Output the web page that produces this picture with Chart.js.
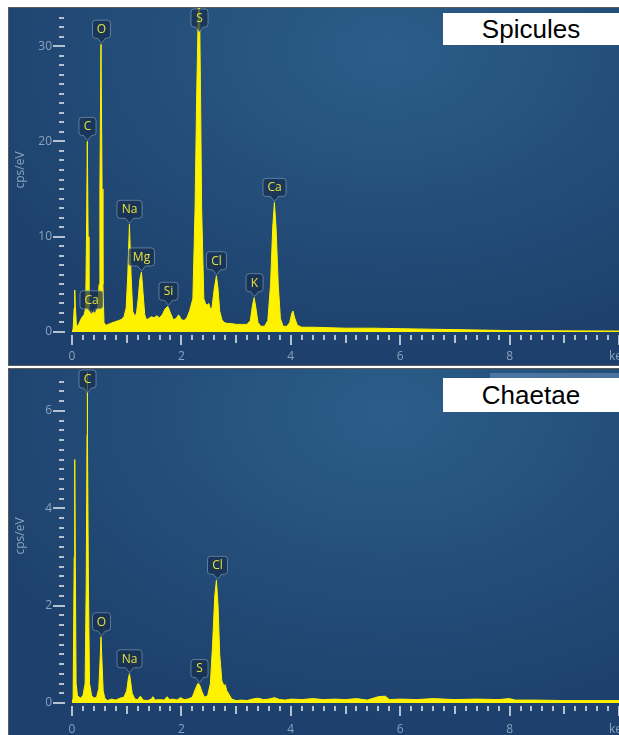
<!DOCTYPE html>
<html>
<head>
<meta charset="utf-8">
<script src="https://cdn.jsdelivr.net/npm/chart.js@4.4.1/dist/chart.umd.min.js"></script>
<style>
  body { margin: 0; background: #fff; width: 619px; height: 735px; overflow: hidden; position: relative; }
  .panel { position: absolute; left: 8px; border: 1px solid #5b5b5b; border-right: none; }
  #p1 { top: 7px; }
  #p2 { top: 368px; border-bottom: none; }
  .plot {
    position: relative; width: 610px;
    background: radial-gradient(ellipse 75% 85% at 62% 12%, #2c5d8a 0%, #25507c 45%, #1d416c 100%);
  }
  #p1 .plot { height: 357px; }
  #p2 .plot { height: 366px; }
  .tag {
    position: absolute; left: 434px; width: 176px; background: #fff; color: #000;
    font: 26px "Liberation Sans", Arial, sans-serif; text-align: center;
  }
  .strip { position: absolute; left: 481px; top: 4px; width: 129px; height: 5px; background: rgba(120, 160, 200, 0.45); }
</style>
</head>
<body>
<div class="panel" id="p1">
  <div class="plot">
    <canvas id="spicules"></canvas>
    <div class="tag" style="top:5px;height:32px;line-height:32px;">Spicules</div>
  </div>
</div>
<div class="panel" id="p2">
  <div class="plot">
    <canvas id="chaetae"></canvas>
    <div class="strip"></div>
    <div class="tag" style="top:9px;height:34px;line-height:34px;">Chaetae</div>
  </div>
</div>
<script>
// energy axis (keV) shared by both spectra
const xTickLabels = ['0', '2', '4', '6', '8', 'keV'];

// Spicules spectrum
const spiculesKeV = [0.00, 0.02, 0.04, 0.05, 0.06, 0.08, 0.10, 0.13, 0.16, 0.19, 0.22, 0.25, 0.265, 0.28, 0.295, 0.31,
  0.33, 0.35, 0.37, 0.40, 0.42, 0.44, 0.47, 0.495, 0.51, 0.53, 0.55, 0.565, 0.585, 0.62, 0.66, 0.70, 0.75, 0.80, 0.85,
  0.90, 0.95, 0.99, 1.02, 1.05, 1.08, 1.11, 1.15, 1.18, 1.21, 1.24, 1.27, 1.30, 1.33, 1.36, 1.40, 1.45, 1.50, 1.55,
  1.60, 1.65, 1.70, 1.75, 1.80, 1.85, 1.90, 1.95, 2.00, 2.05, 2.10, 2.15, 2.21, 2.25, 2.28, 2.31, 2.33, 2.35, 2.37,
  2.41, 2.44, 2.47, 2.50, 2.53, 2.56, 2.60, 2.64, 2.67, 2.70, 2.74, 2.78, 2.84, 2.90, 3.00, 3.10, 3.20, 3.26, 3.30,
  3.33, 3.36, 3.40, 3.45, 3.52, 3.58, 3.63, 3.67, 3.70, 3.73, 3.77, 3.81, 3.86, 3.93, 3.98, 4.02, 4.04, 4.07, 4.12,
  4.20, 4.40, 4.70, 5.00, 5.50, 6.00, 6.50, 7.00, 7.50, 8.00, 9.00, 10.00];
const spiculesCps = [0, 0.3, 2.5, 4.4, 2.8, 0.8, 0.6, 0.9, 1.3, 1.6, 1.8, 2.5, 10, 20, 10, 2.6,
  2.0, 2.3, 2.0, 2.1, 1.8, 2.2, 2.5, 5, 15, 30.2, 15, 5, 1.0, 0.7, 0.8, 0.9, 1.0, 1.1, 1.2,
  1.3, 1.6, 2.5, 6, 11.3, 6, 2.2, 1.6, 2.0, 3.5, 5.5, 6.3, 4.0, 1.8, 1.3, 1.4, 1.6, 1.5, 1.7,
  1.5, 1.8, 2.4, 2.7, 2.0, 1.3, 1.4, 1.8, 1.3, 1.2, 1.5, 2.2, 3.5, 13, 25, 34, 35, 25, 13,
  3.5, 3.0, 2.8, 3.0, 2.4, 2.6, 4.5, 5.9, 4.5, 2.2, 1.3, 1.0, 0.9, 0.9, 0.8, 0.8, 0.8, 1.2, 2.8,
  3.6, 2.6, 1.0, 0.6, 0.6, 1.2, 5, 11, 13.6, 11, 5, 1.4, 0.6, 0.6, 1.0, 2.0, 2.2, 1.5, 0.7,
  0.5, 0.5, 0.45, 0.4, 0.4, 0.35, 0.3, 0.25, 0.2, 0.15, 0.12, 0.1];
const spiculesPeakNames = ['Ca', 'C', 'O', 'Na', 'Mg', 'Si', 'S', 'Cl', 'K', 'Ca'];
const spiculesPeakKeV = [0.35, 0.28, 0.53, 1.05, 1.27, 1.75, 2.32, 2.64, 3.33, 3.70];
const spiculesPeakCps = [1.8, 20, 30.2, 11.3, 6.3, 2.7, 35, 5.9, 3.6, 13.6];
const spiculesYLabels = ['0', '10', '20', '30'];

// Chaetae spectrum
const chaetaeKeV = [0.00, 0.02, 0.04, 0.05, 0.06, 0.075, 0.10, 0.15, 0.20, 0.24, 0.26, 0.275, 0.28, 0.285, 0.30, 0.32,
  0.36, 0.40, 0.45, 0.49, 0.51, 0.53, 0.55, 0.57, 0.60, 0.65, 0.72, 0.80, 0.88, 0.95, 1.00, 1.03, 1.05, 1.07, 1.10,
  1.15, 1.20, 1.25, 1.30, 1.38, 1.45, 1.48, 1.52, 1.60, 1.68, 1.74, 1.78, 1.85, 1.92, 1.98, 2.05, 2.12, 2.20, 2.26,
  2.30, 2.33, 2.37, 2.42, 2.48, 2.53, 2.57, 2.61, 2.64, 2.67, 2.70, 2.74, 2.78, 2.80, 2.83, 2.87, 2.92, 3.00, 3.10,
  3.20, 3.30, 3.40, 3.50, 3.60, 3.70, 3.80, 3.90, 4.00, 4.20, 4.40, 4.60, 4.80, 5.00, 5.20, 5.40, 5.60, 5.73, 5.80,
  6.00, 6.30, 6.60, 7.00, 7.40, 7.80, 8.00, 8.10, 8.50, 9.00, 9.50, 10.00];
const chaetaeCps = [0, 0.1, 3.0, 5.0, 3.0, 0.4, 0.15, 0.1, 0.15, 0.4, 2.5, 5.5, 6.8, 5.5, 2.5, 0.4,
  0.15, 0.1, 0.12, 0.3, 0.8, 1.36, 0.8, 0.25, 0.1, 0.05, 0.08, 0.06, 0.1, 0.12, 0.25, 0.5, 0.6, 0.45, 0.2,
  0.08, 0.07, 0.14, 0.06, 0.05, 0.08, 0.13, 0.06, 0.07, 0.06, 0.13, 0.07, 0.08, 0.06, 0.11, 0.07, 0.08, 0.12, 0.3,
  0.4, 0.38, 0.25, 0.12, 0.15, 0.4, 1.2, 2.2, 2.52, 2.0, 1.0, 0.45, 0.35, 0.38, 0.25, 0.18, 0.08, 0.05, 0.06,
  0.05, 0.08, 0.1, 0.07, 0.08, 0.11, 0.07, 0.06, 0.08, 0.07, 0.09, 0.07, 0.08, 0.07, 0.09, 0.06, 0.13, 0.14, 0.07,
  0.08, 0.07, 0.09, 0.07, 0.08, 0.07, 0.09, 0.06, 0.06, 0.05, 0.05, 0.05];
const chaetaePeakNames = ['C', 'O', 'Na', 'S', 'Cl'];
const chaetaePeakKeV = [0.28, 0.53, 1.05, 2.32, 2.65];
const chaetaePeakCps = [6.8, 1.36, 0.6, 0.4, 2.52];
const chaetaeYLabels = ['0', '2', '4', '6'];

const tickColor = '#b3c1d0';
const labelColor = '#8aa3bf';
const uiFont = '"Open Sans", "DejaVu Sans", sans-serif';

// draws the ruler ticks and the element markers
const spectrumDecor = {
  id: 'spectrumDecor',
  afterDatasetsDraw(chart, args, opts) {
    const ctx = chart.ctx, xs = chart.scales.x, ys = chart.scales.y, area = chart.chartArea;
    ctx.save();
    ctx.fillStyle = tickColor;
    for (let i = 0; i <= 50; i++) {
      const px = Math.round(xs.getPixelForValue(i * 0.2));
      let len = 5;
      if (i % 10 === 0) len = 10; else if (i % 5 === 0) len = 8;
      ctx.fillRect(px - 1, area.bottom + 3, 2, len);
    }
    const steps = Math.round(opts.tickEnd / opts.minor);
    for (let i = 0; i <= steps; i++) {
      const py = Math.round(ys.getPixelForValue(i * opts.minor));
      if (i % opts.majorEvery === 0) ctx.fillRect(area.left - 19, py - 1, 12, 2);
      else ctx.fillRect(area.left - 13, py - 1, 5, 2);
    }

    ctx.font = '12px ' + uiFont;
    ctx.textAlign = 'center';
    ctx.textBaseline = 'middle';
    opts.names.forEach((name, i) => {
      const cx = Math.round(xs.getPixelForValue(opts.keV[i])) + 0.5;
      let tip = ys.getPixelForValue(opts.cps[i]) - 1;
      const w = Math.max(17, Math.round(ctx.measureText(name).width) + 9);
      const h = 18, ph = 5;
      let top = tip - ph - h;
      if (top < area.top + 1) { top = area.top + 1; tip = top + h + ph; }
      const l = cx - w / 2, r = cx + w / 2, b = top + h, rad = 3;
      ctx.beginPath();
      ctx.moveTo(l + rad, top);
      ctx.lineTo(r - rad, top);
      ctx.quadraticCurveTo(r, top, r, top + rad);
      ctx.lineTo(r, b - rad);
      ctx.quadraticCurveTo(r, b, r - rad, b);
      ctx.lineTo(cx + 4, b);
      ctx.lineTo(cx, tip);
      ctx.lineTo(cx - 4, b);
      ctx.lineTo(l + rad, b);
      ctx.quadraticCurveTo(l, b, l, b - rad);
      ctx.lineTo(l, top + rad);
      ctx.quadraticCurveTo(l, top, l + rad, top);
      ctx.closePath();
      ctx.fillStyle = 'rgba(22, 46, 78, 0.72)';
      ctx.fill();
      ctx.strokeStyle = 'rgba(150, 175, 200, 0.55)';
      ctx.lineWidth = 1;
      ctx.stroke();
      ctx.fillStyle = '#e6e23c';
      ctx.fillText(name, cx, top + h / 2 + 0.5);
    });
    ctx.restore();
  }
};

function makeSpectrum(id, keV, cps, yMax, yLabels, yStep, decor, xHeight, xPad) {
  const points = keV.map((e, i) => ({ x: e, y: cps[i] }));
  return new Chart(document.getElementById(id), {
    type: 'line',
    data: {
      datasets: [{
        data: points,
        borderColor: '#fff200',
        backgroundColor: '#fff200',
        borderWidth: 1,
        fill: 'origin',
        tension: 0,
        pointRadius: 0
      }]
    },
    options: {
      responsive: true,
      maintainAspectRatio: false,
      animation: false,
      layout: { padding: 0 },
      plugins: {
        legend: { display: false },
        tooltip: { enabled: false },
        spectrumDecor: decor
      },
      scales: {
        x: {
          type: 'linear',
          min: 0,
          max: 10,
          border: { display: false },
          grid: { display: false, drawTicks: false },
          ticks: {
            stepSize: 2,
            padding: xPad,
            color: labelColor,
            font: { size: 12, family: uiFont },
            maxRotation: 0,
            callback: (v, i) => xTickLabels[i]
          },
          afterFit: s => { s.height = xHeight; s.paddingLeft = 0; s.paddingRight = 0; }
        },
        y: {
          min: 0,
          max: yMax,
          border: { display: false },
          grid: { display: false, drawTicks: false },
          ticks: {
            stepSize: yStep,
            includeBounds: false,
            padding: 20,
            color: labelColor,
            font: { size: 12, family: uiFont },
            callback: (v, i) => yLabels[i]
          },
          title: {
            display: true,
            text: 'cps/eV',
            color: labelColor,
            font: { size: 12, family: uiFont },
            padding: { top: 4, bottom: 0 }
          },
          afterFit: s => { s.width = 63; s.paddingTop = 0; s.paddingBottom = 0; }
        }
      }
    },
    plugins: [spectrumDecor]
  });
}

makeSpectrum('spicules', spiculesKeV, spiculesCps, 34, spiculesYLabels, 10,
  { names: spiculesPeakNames, keV: spiculesPeakKeV, cps: spiculesPeakCps, tickEnd: 33, minor: 1, majorEvery: 10 }, 33, 17);
makeSpectrum('chaetae', chaetaeKeV, chaetaeCps, 6.86, chaetaeYLabels, 2,
  { names: chaetaePeakNames, keV: chaetaePeakKeV, cps: chaetaePeakCps, tickEnd: 6.6, minor: 0.2, majorEvery: 10 }, 32, 19);
</script>
</body>
</html>
